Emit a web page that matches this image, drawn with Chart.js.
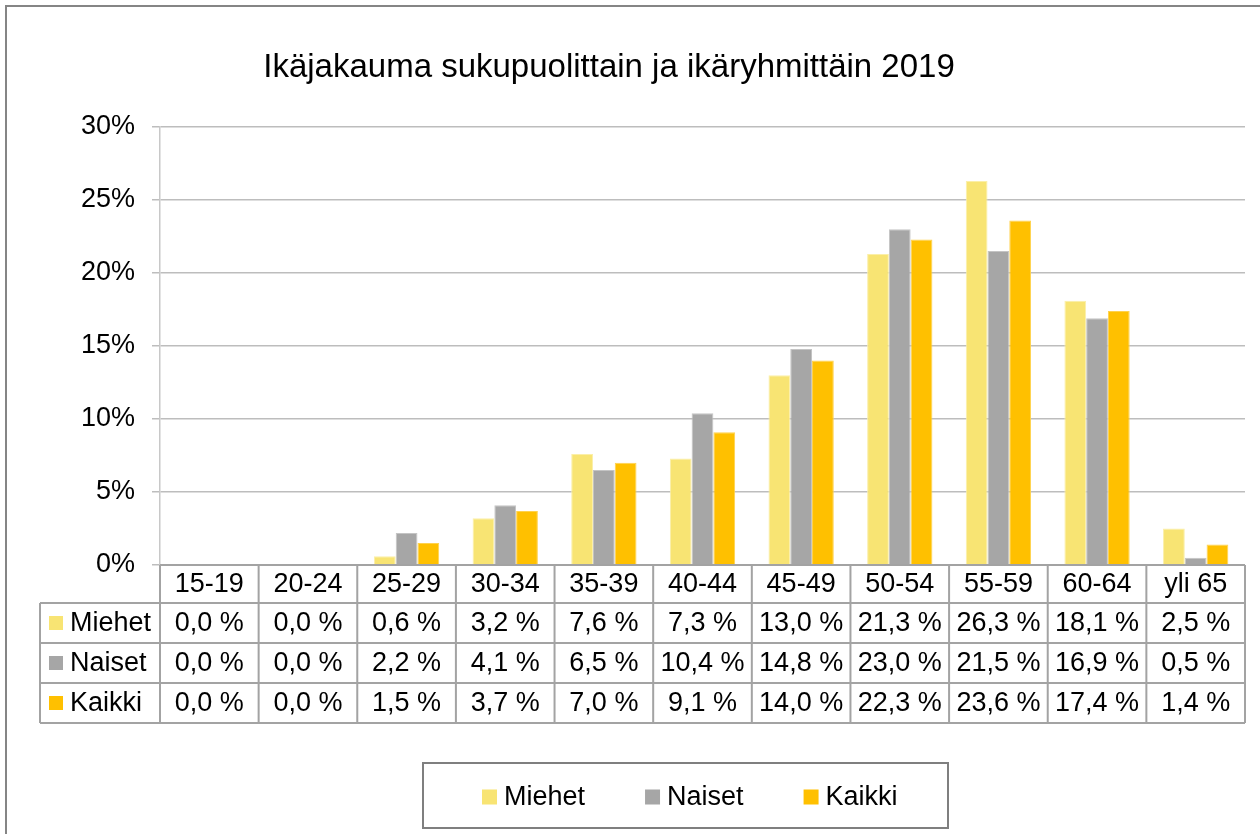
<!DOCTYPE html>
<html>
<head>
<meta charset="utf-8">
<script src="https://cdn.jsdelivr.net/npm/chart.js@4/dist/chart.umd.min.js"></script>
<style>
html,body{margin:0;padding:0;background:#fff;}
#wrap{width:1260px;height:834px;position:relative;}
</style>
</head>
<body>
<div id="wrap"><canvas id="c" width="1260" height="834"></canvas></div>
<script>
const titleText = 'Ikäjakauma sukupuolittain ja ikäryhmittäin 2019';
const categories = ['15-19','20-24','25-29','30-34','35-39','40-44','45-49','50-54','55-59','60-64','yli 65'];
const seriesNames = ['Miehet','Naiset','Kaikki'];
const miehet = [0.0, 0.0, 0.6, 3.2, 7.6, 7.3, 13.0, 21.3, 26.3, 18.1, 2.5];
const naiset = [0.0, 0.0, 2.2, 4.1, 6.5, 10.4, 14.8, 23.0, 21.5, 16.9, 0.5];
const kaikki = [0.0, 0.0, 1.5, 3.7, 7.0, 9.1, 14.0, 22.3, 23.6, 17.4, 1.4];
const yTicks = [0, 5, 10, 15, 20, 25, 30];

const colors = ['#F8E473', '#A6A6A6', '#FFC000'];
const borders = ['#FBEFA8', '#C4C4C4', '#FFD24D'];
const FONT = '"Liberation Sans", Arial, sans-serif';
const seriesData = [miehet, naiset, kaikki];

function fmt(v){ return v.toFixed(1).replace('.', ',') + ' %'; }

const decor = {
  id: 'decor',
  afterDraw(chart) {
    const ctx = chart.ctx;
    const ca = chart.chartArea;
    const xs = chart.scales.x;
    ctx.save();
    // outer frame
    ctx.strokeStyle = '#858585';
    ctx.lineWidth = 2;
    ctx.beginPath();
    ctx.moveTo(6, 840); ctx.lineTo(6, 6); ctx.lineTo(1270, 6);
    ctx.stroke();

    // title
    ctx.fillStyle = '#000';
    ctx.font = '33px ' + FONT;
    ctx.textAlign = 'center';
    ctx.textBaseline = 'alphabetic';
    ctx.fillText(titleText, 609, 77);

    // data table
    const rows = [ca.bottom, 603, 643, 683, 723];
    const n = categories.length;
    const colW = (ca.right - ca.left) / n;
    const edges = [];
    for (let i = 0; i <= n; i++) edges.push(ca.left + i * colW);
    const leftX = 40;
    ctx.strokeStyle = '#A3A3A3';
    ctx.lineWidth = 2;
    ctx.beginPath();
    // horizontal lines
    ctx.moveTo(ca.left, rows[0]); ctx.lineTo(ca.right, rows[0]);
    for (let r = 1; r < rows.length; r++) {
      ctx.moveTo(leftX, rows[r]); ctx.lineTo(ca.right, rows[r]);
    }
    // vertical lines
    ctx.moveTo(leftX, rows[1]); ctx.lineTo(leftX, rows[4]);
    for (let i = 0; i <= n; i++) {
      ctx.moveTo(edges[i], rows[0]); ctx.lineTo(edges[i], rows[4]);
    }
    ctx.stroke();

    ctx.font = '27px ' + FONT;
    ctx.fillStyle = '#000';
    ctx.textBaseline = 'middle';
    ctx.textAlign = 'center';
    for (let i = 0; i < n; i++) {
      const cx = xs.getPixelForValue(i);
      ctx.fillText(categories[i], cx, (rows[0] + rows[1]) / 2 + 1);
      for (let s = 0; s < 3; s++) {
        ctx.fillText(fmt(seriesData[s][i]), cx, (rows[s + 1] + rows[s + 2]) / 2 + 1);
      }
    }
    ctx.textAlign = 'left';
    for (let s = 0; s < 3; s++) {
      const cy = (rows[s + 1] + rows[s + 2]) / 2;
      ctx.fillStyle = colors[s];
      ctx.fillRect(49, cy - 7, 14, 14);
      ctx.fillStyle = '#000';
      ctx.fillText(seriesNames[s], 70, cy + 1);
    }

    // legend box
    ctx.strokeStyle = '#7F7F7F';
    ctx.lineWidth = 2;
    ctx.strokeRect(423, 763, 525, 65);
    let x = 482;
    const ly = 797;
    for (let s = 0; s < 3; s++) {
      ctx.fillStyle = colors[s];
      ctx.fillRect(x, ly - 7.5, 15, 15);
      ctx.fillStyle = '#000';
      ctx.fillText(seriesNames[s], x + 22, ly + 1);
      x += 22 + ctx.measureText(seriesNames[s]).width + 60;
    }
    ctx.restore();
  }
};

new Chart(document.getElementById('c'), {
  type: 'bar',
  data: {
    labels: categories,
    datasets: seriesNames.map((name, s) => ({
      label: name,
      data: seriesData[s],
      backgroundColor: colors[s],
      borderColor: borders[s],
      borderWidth: 1,
      barPercentage: 1.0,
      categoryPercentage: 0.662
    }))
  },
  options: {
    responsive: false,
    animation: false,
    events: [],
    layout: { padding: { top: 127, bottom: 269, left: 0, right: 15 } },
    plugins: { legend: { display: false }, title: { display: false }, tooltip: { enabled: false } },
    scales: {
      x: { display: false },
      y: {
        min: 0, max: 30,
        afterFit(axis) { axis.width = 160; },
        afterBuildTicks(axis) { axis.ticks = yTicks.map(v => ({ value: v })); },
        ticks: {
          padding: 17,
          color: '#000',
          font: { family: FONT, size: 27 },
          callback: v => v + '%'
        },
        grid: { color: '#BDBDBD', lineWidth: 1.5, tickLength: 8, drawTicks: true },
        border: { display: true, color: '#C8C8C8', width: 1.5 }
      }
    }
  },
  plugins: [decor]
});
</script>
</body>
</html>
